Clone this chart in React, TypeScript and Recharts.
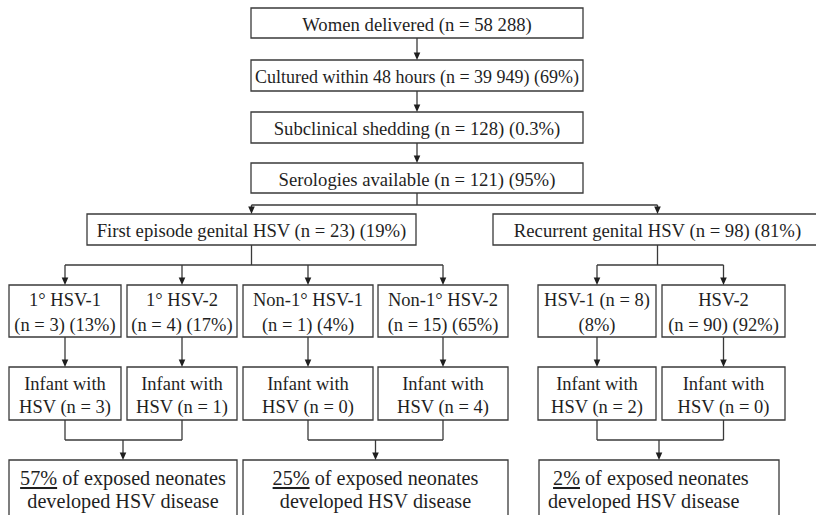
import React from 'react';
import { ComposedChart, XAxis, YAxis, ReferenceArea, ReferenceLine } from 'recharts';

const screeningSteps = ['Women delivered', 'Cultured within 48 hours', 'Subclinical shedding', 'Serologies available'];
const screeningCounts = ['58 288', '39 949', '128', '121'];
const screeningPercents = ['', '69%', '0.3%', '95%'];

const episodeTypes = ['First episode genital HSV', 'Recurrent genital HSV'];
const episodeCounts = [23, 98];
const episodePercents = ['19%', '81%'];

const subgroupNames = ['1° HSV-1', '1° HSV-2', 'Non-1° HSV-1', 'Non-1° HSV-2', 'HSV-1', 'HSV-2'];
const subgroupCounts = [3, 4, 1, 15, 8, 90];
const subgroupPercents = ['13%', '17%', '4%', '65%', '8%', '92%'];
const subgroupEpisode = [0, 0, 0, 0, 1, 1];

const infantCounts = [3, 1, 0, 4, 2, 0];

const diseaseRates = ['57%', '25%', '2%'];
const diseaseGroups = [[0, 1], [2, 3], [4, 5]];

// Layout in chart units (axis domain = page pixels)
const W = 816;
const H = 515;
const screeningRows = [[8, 38], [60, 91], [112, 143], [163, 193]];
const screeningCol = [251, 583];
const screeningFit = [0, 324, 0, 0]; // the long line is squeezed into its box
const episodeRow = [214, 245];
const episodeCols = [[87, 416], [493, 822]];
const subgroupRow = [285, 337];
const infantRow = [367, 420];
const subgroupCols = [[9, 121], [127, 237], [243, 373], [378, 508], [538, 656], [662, 785]];
const outcomeRow = [460, 518];
const outcomeCols = [[9, 237], [243, 508], [539, 779]];
const outcomeLeftAligned = [false, false, true];
const busEpisode = 205;
const busSubgroup = 265;
const busOutcome = 440;

const LINE = '#3a3a3a';
const INK = '#1f1f1f';
const FONT = 'Liberation Serif';

type Part = { t: string; u?: boolean };
type Line = string | Part[];
type Box = {
  x1: number; x2: number; y1: number; y2: number; lines: Line[];
  size: number; gap?: number; fit?: number; left?: boolean;
};

const eq = (n: number | string) => `(n = ${n})`;
const mid = (c: number[]) => (c[0] + c[1]) / 2;

const boxes: Box[] = [];
screeningSteps.forEach((s, i) => {
  const pct = screeningPercents[i] ? ` (${screeningPercents[i]})` : '';
  boxes.push({
    x1: screeningCol[0], x2: screeningCol[1], y1: screeningRows[i][0], y2: screeningRows[i][1],
    lines: [`${s} ${eq(screeningCounts[i])}${pct}`], size: 18.7, fit: screeningFit[i] || undefined,
  });
});
episodeTypes.forEach((s, i) => {
  boxes.push({
    x1: episodeCols[i][0], x2: episodeCols[i][1], y1: episodeRow[0], y2: episodeRow[1],
    lines: [`${s} ${eq(episodeCounts[i])} (${episodePercents[i]})`], size: 18.7,
  });
});
subgroupNames.forEach((s, i) => {
  // the recurrent HSV-1 box wraps differently in the original
  const lines = i === 4
    ? [`${s} ${eq(subgroupCounts[i])}`, `(${subgroupPercents[i]})`]
    : [s, `${eq(subgroupCounts[i])} (${subgroupPercents[i]})`];
  boxes.push({ x1: subgroupCols[i][0], x2: subgroupCols[i][1], y1: subgroupRow[0], y2: subgroupRow[1], lines, size: 18.5, gap: 25 });
  boxes.push({
    x1: subgroupCols[i][0], x2: subgroupCols[i][1], y1: infantRow[0], y2: infantRow[1],
    lines: ['Infant with', `HSV ${eq(infantCounts[i])}`], size: 18.5, gap: 23,
  });
});
diseaseRates.forEach((r, i) => {
  const left = outcomeLeftAligned[i];
  boxes.push({
    x1: outcomeCols[i][0], x2: outcomeCols[i][1], y1: outcomeRow[0], y2: outcomeRow[1], size: 20.2, gap: 23, left,
    lines: [[{ t: left ? ' ' : '' }, { t: r, u: true }, { t: ' of exposed neonates' }], 'developed HSV disease'],
  });
});

// connectors: [x1, y1, x2, y2, arrow]
type Link = [number, number, number, number, boolean];
const links: Link[] = [];
const topX = mid(screeningCol);
for (let i = 0; i < screeningRows.length - 1; i++) {
  links.push([topX, screeningRows[i][1], topX, screeningRows[i + 1][0], true]);
}
links.push([topX, screeningRows[3][1], topX, busEpisode, false]);
links.push([mid(episodeCols[0]), busEpisode, mid(episodeCols[1]), busEpisode, false]);
episodeCols.forEach((c) => links.push([mid(c), busEpisode, mid(c), episodeRow[0], true]));

episodeCols.forEach((c, e) => {
  const kids = subgroupCols.filter((_, i) => subgroupEpisode[i] === e);
  links.push([mid(c), episodeRow[1], mid(c), busSubgroup, false]);
  links.push([mid(kids[0]), busSubgroup, mid(kids[kids.length - 1]), busSubgroup, false]);
  kids.forEach((k) => links.push([mid(k), busSubgroup, mid(k), subgroupRow[0], true]));
});
subgroupCols.forEach((c) => links.push([mid(c), subgroupRow[1], mid(c), infantRow[0], true]));
diseaseGroups.forEach((g, i) => {
  const a = mid(subgroupCols[g[0]]);
  const b = mid(subgroupCols[g[1]]);
  links.push([a, infantRow[1], a, busOutcome, false]);
  links.push([b, infantRow[1], b, busOutcome, false]);
  links.push([a, busOutcome, b, busOutcome, false]);
  const m = mid(outcomeCols[i]);
  links.push([m, busOutcome, m, outcomeRow[0], true]);
});

function ArrowShape(props: any) {
  const { x1, y1, x2, y2 } = props;
  const tip = Math.max(y1, y2);
  return (
    <g>
      <line x1={x1} y1={y1} x2={x2} y2={tip - 5} stroke={LINE} strokeWidth={1.3} />
      <polygon points={`${x2 - 3.3},${tip - 7.5} ${x2 + 3.3},${tip - 7.5} ${x2},${tip}`} fill={INK} />
    </g>
  );
}

function BoxText(props: any) {
  const { viewBox, box } = props;
  if (!viewBox) return null;
  const b: Box = box;
  const gap = b.gap ?? 24;
  const x = b.left ? viewBox.x + 9 : viewBox.x + viewBox.width / 2;
  const cy = viewBox.y + viewBox.height / 2;
  return (
    <text
      textAnchor={b.left ? 'start' : 'middle'}
      fill={INK}
      style={{ whiteSpace: 'pre', fontFamily: FONT, fontSize: b.size }}
    >
      {b.lines.map((line: Line, i: number) => (
        <tspan
          key={i}
          x={x}
          y={cy + (i - (b.lines.length - 1) / 2) * gap + 7.5}
          textLength={b.fit}
          lengthAdjust={b.fit ? 'spacingAndGlyphs' : undefined}
        >
          {typeof line === 'string'
            ? line
            : line.map((p, j) => (
                <tspan key={j} style={p.u ? { textDecoration: 'underline' } : undefined}>{p.t}</tspan>
              ))}
        </tspan>
      ))}
    </text>
  );
}

export default function App() {
  return (
    <div style={{ position: 'absolute', left: 0, top: 0, width: W, height: H, background: '#fff', fontFamily: FONT }}>
      <ComposedChart width={W} height={H} data={[]} margin={{ top: 0, right: 0, bottom: 0, left: 0 }}>
        <XAxis type="number" dataKey="x" domain={[0, W]} hide allowDataOverflow />
        <YAxis type="number" dataKey="y" domain={[0, H]} reversed hide allowDataOverflow />
        {links.map((l, i) => (
          <ReferenceLine
            key={`l${i}`}
            segment={[{ x: l[0], y: l[1] }, { x: l[2], y: l[3] }]}
            stroke={LINE}
            strokeWidth={1.3}
            ifOverflow="visible"
            shape={l[4] ? ArrowShape : undefined}
          />
        ))}
        {boxes.map((b, i) => (
          <ReferenceArea
            key={`b${i}`}
            x1={b.x1}
            x2={b.x2}
            y1={b.y1}
            y2={b.y2}
            fill="#fff"
            fillOpacity={1}
            stroke={LINE}
            strokeWidth={1.3}
            ifOverflow="visible"
            label={<BoxText box={b} />}
          />
        ))}
      </ComposedChart>
    </div>
  );
}
